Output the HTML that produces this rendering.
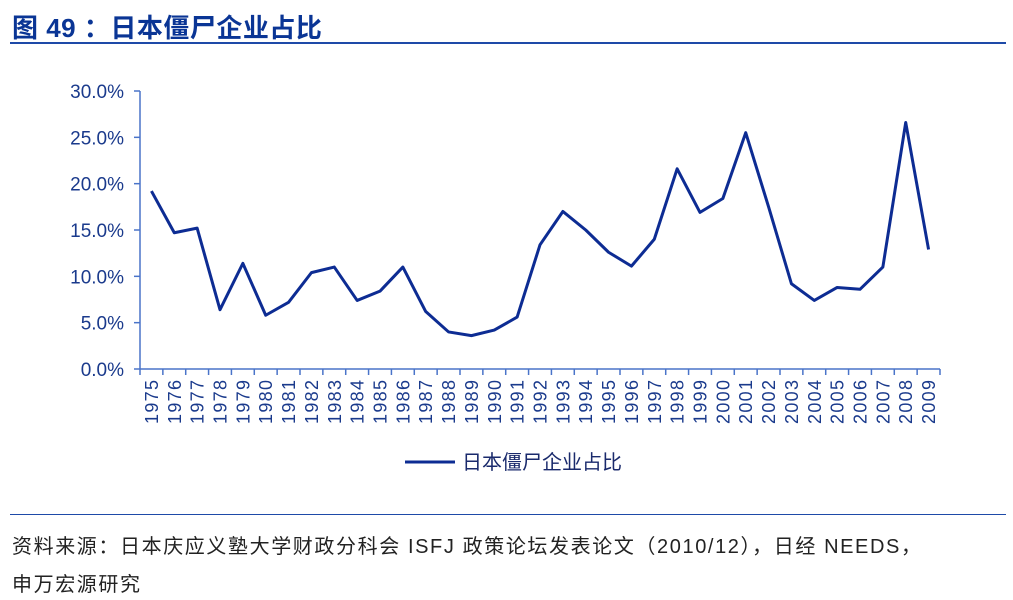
<!DOCTYPE html>
<html><head><meta charset="utf-8"><style>
body{margin:0;background:#fff;width:1013px;height:600px;overflow:hidden;font-family:"Liberation Sans","Noto Sans CJK SC",sans-serif;}
.title{position:absolute;left:12px;top:8px;font-size:26px;font-weight:bold;color:#0a3595;letter-spacing:0.5px;}
.rule{position:absolute;left:10px;width:996px;height:2px;background:#1e4aa8;}
.foot{position:absolute;left:12px;font-size:20px;color:#222;letter-spacing:1.6px;white-space:nowrap;}
</style></head><body>
<div class="title">图 49 ：日本僵尸企业占比</div>
<div class="rule" style="top:42px"></div>
<svg id="chart" width="1013" height="600" style="position:absolute;left:0;top:0"></svg>
<div class="rule" style="top:514px;height:1px"></div>
<div class="foot" style="top:530px">资料来源：日本庆应义塾大学财政分科会 ISFJ 政策论坛发表论文（2010/12），日经 NEEDS，</div>
<div class="foot" style="top:568px">申万宏源研究</div>
<script>
const years=[];for(let y=1975;y<=2009;y++)years.push(String(y));
const values=[19.2,14.7,15.2,6.4,11.4,5.8,7.2,10.4,11.0,7.4,8.4,11.0,6.2,4.0,3.6,4.2,5.6,13.4,17.0,15.0,12.6,11.1,14.0,21.6,16.9,18.4,25.5,17.5,9.2,7.4,8.8,8.6,11.0,26.6,12.9];
const yTicks=[0,5,10,15,20,25,30];
const NS="http://www.w3.org/2000/svg";
const svg=document.getElementById('chart');
const x0=140,x1=940,y0=369,yTop=91;
const bw=(x1-x0)/years.length;
const X=i=>x0+bw*(i+0.5);
const Y=v=>y0-(v/30)*(y0-yTop);
function mk(t,a){const e=document.createElementNS(NS,t);for(const k in a)e.setAttribute(k,a[k]);svg.appendChild(e);return e;}
const axc="#4a74c9",tc="#1a3a8c";
let e=mk('line',{x1:x0,y1:yTop,x2:x0,y2:y0,stroke:axc,'stroke-width':1.5});


yTicks.forEach(v=>{
 let t=mk('line',{x1:x0-6,y1:Y(v),x2:x0,y2:Y(v),stroke:axc,'stroke-width':1.5});
 
 
 let l=mk('text',{x:x0-16,y:Y(v)+7,'text-anchor':'end','font-size':19,fill:tc});
 
 
 l.textContent=v.toFixed(1)+'%';
});
e=mk('line',{x1:x0,y1:y0,x2:x1,y2:y0,stroke:axc,'stroke-width':1.5});


for(let i=0;i<=years.length;i++){
 let t=mk('line',{x1:x0+bw*i,y1:y0,x2:x0+bw*i,y2:y0+6,stroke:axc,'stroke-width':1.5});
 
 
}
years.forEach((yr,i)=>{
 let l=mk('text',{x:0,y:0,'text-anchor':'end','font-size':18,fill:tc,transform:`translate(${X(i)+6.5},${y0+11}) rotate(-90)`});
 
 
 l.setAttribute('textLength','44');
 l.textContent=yr;
});
const pts=values.map((v,i)=>X(i)+','+Y(v)).join(' ');
e=mk('polyline',{points:pts,fill:'none',stroke:'#0d2c93','stroke-width':3,'stroke-linejoin':'round'});


e=mk('line',{x1:405,y1:462,x2:455,y2:462,stroke:'#0d2c93','stroke-width':3});


e=mk('text',{x:462,y:469,'font-size':20,fill:'#1a2a6c'});


e.textContent='日本僵尸企业占比';
</script>
</body></html>
